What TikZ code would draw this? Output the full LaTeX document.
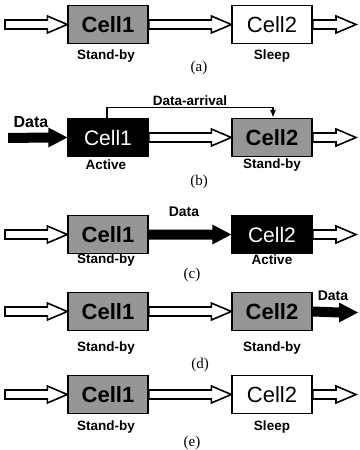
\documentclass[tikz,border=0pt]{standalone}
\usepackage{fontspec}
\newfontfamily\arial{Liberation Sans}
\newfontfamily\myserif{Liberation Serif}
\usetikzlibrary{calc,arrows.meta}
\definecolor{sbgray}{RGB}{150,150,150}
\newcommand\HArrow[2]{\draw[hollowarr] ($(#1)+(0,-4.5)$) -- ($(#2)+(-20,-4.5)$) -- ($(#2)+(-20,-8.5)$) -- (#2) -- ($(#2)+(-20,8.5)$) -- ($(#2)+(-20,4.5)$) -- ($(#1)+(0,4.5)$) -- cycle;}
\newcommand\DArrow[2]{\fill[black] ($(#1)+(0,-5)$) -- ($(#2)+(-19,-5)$) -- ($(#2)+(-19,-10)$) -- (#2) -- ($(#2)+(-19,10)$) -- ($(#2)+(-19,5)$) -- ($(#1)+(0,5)$) -- cycle;}
\begin{document}
\begin{tikzpicture}[x=1pt,y=-1pt,
  cell/.style={draw=black, line width=1.4pt, minimum width=80pt, minimum height=38pt, inner sep=0pt, font=\arial\fontsize{22}{22}\selectfont},
  standby/.style={cell, fill=sbgray, font=\arial\bfseries\fontsize{22}{22}\selectfont},
  sleep/.style={cell, fill=white},
  active/.style={cell, fill=black, text=white, font=\arial\fontsize{21}{21}\selectfont},
  lab/.style={font=\arial\bfseries\fontsize{13.5}{13.5}\selectfont, inner sep=0pt},
  datalab/.style={font=\arial\bfseries\fontsize{14}{14}\selectfont, inner sep=0pt},
  sub/.style={font=\myserif\fontsize{15}{15}\selectfont, inner sep=0pt},
  hollowarr/.style={draw=black, line width=1.6pt, fill=white, line join=miter},
  signal/.style={draw=black, line width=1.3pt, -{Latex[length=8pt,width=6pt]}}]
\useasboundingbox (0,0) rectangle (359,450);
% ---- (a)
\node[standby] (a1) at (108,24.5) {Cell1};
\node[sleep] (a2) at (272,24.5) {Cell2};
\coordinate (ain) at (5,24.5);
\coordinate (aout) at (356,24.5);
\HArrow{ain}{a1.west}
\HArrow{a1.east}{a2.west}
\HArrow{a2.east}{aout}
\node[lab] (la1) at (106,56) {Stand-by};
\node[lab] (la2) at (272,56) {Sleep};
\node[sub] (sa) at (199,68) {(a)};
% ---- (b)
\node[active] (b1) at (108,137.5) {Cell1};
\node[standby] (b2) at (272,137.5) {Cell2};
\coordinate (bin) at (8,138);
\coordinate (bout) at (356,137.5);
\DArrow{bin}{b1.west}
\HArrow{b1.east}{b2.west}
\HArrow{b2.east}{bout}
\node[datalab, font=\arial\bfseries\fontsize{16}{16}\selectfont] (db) at (31,122) {Data};
\coordinate (da1) at ([xshift=-1pt]b1.north);
\coordinate (da2) at ([xshift=1pt]b2.north);
\draw[signal] (da1) -- ++(0,-10) coordinate (dak) -| (da2);
\node[lab, anchor=south] (dal) at (190,106) {Data-arrival};
\node[lab] (lb1) at (106,165) {Active};
\node[lab] (lb2) at (272,165) {Stand-by};
\node[sub] (sb) at (199,182) {(b)};
% ---- (c)
\node[standby] (c1) at (108,234.5) {Cell1};
\node[active] (c2) at (272,234.5) {Cell2};
\coordinate (cin) at (5,234.5);
\coordinate (cout) at (356,234.5);
\HArrow{cin}{c1.west}
\DArrow{c1.east}{c2.west}
\HArrow{c2.east}{cout}
\node[datalab] (dc) at (184,212) {Data};
\node[lab] (lc1) at (106,260) {Stand-by};
\node[lab] (lc2) at (272,260) {Active};
\node[sub] (sc) at (192,275) {(c)};
% ---- (d)
\node[standby] (d1) at (108,311.5) {Cell1};
\node[standby] (d2) at (272,311.5) {Cell2};
\coordinate (din) at (5,311.5);
\coordinate (dout) at (358,312.5);
\HArrow{din}{d1.west}
\HArrow{d1.east}{d2.west}
\DArrow{d2.east}{dout}
\node[datalab] (dd) at (333,296) {Data};
\node[lab] (ld1) at (106,348) {Stand-by};
\node[lab] (ld2) at (272,348) {Stand-by};
\node[sub] (sd) at (200,365) {(d)};
% ---- (e)
\node[standby] (e1) at (108,394.5) {Cell1};
\node[sleep] (e2) at (272,394.5) {Cell2};
\coordinate (ein) at (5,394.5);
\coordinate (eout) at (356,394.5);
\HArrow{ein}{e1.west}
\HArrow{e1.east}{e2.west}
\HArrow{e2.east}{eout}
\node[lab] (le1) at (106,427) {Stand-by};
\node[lab] (le2) at (272,427) {Sleep};
\node[sub] (se) at (192,443) {(e)};
\end{tikzpicture}
\end{document}
